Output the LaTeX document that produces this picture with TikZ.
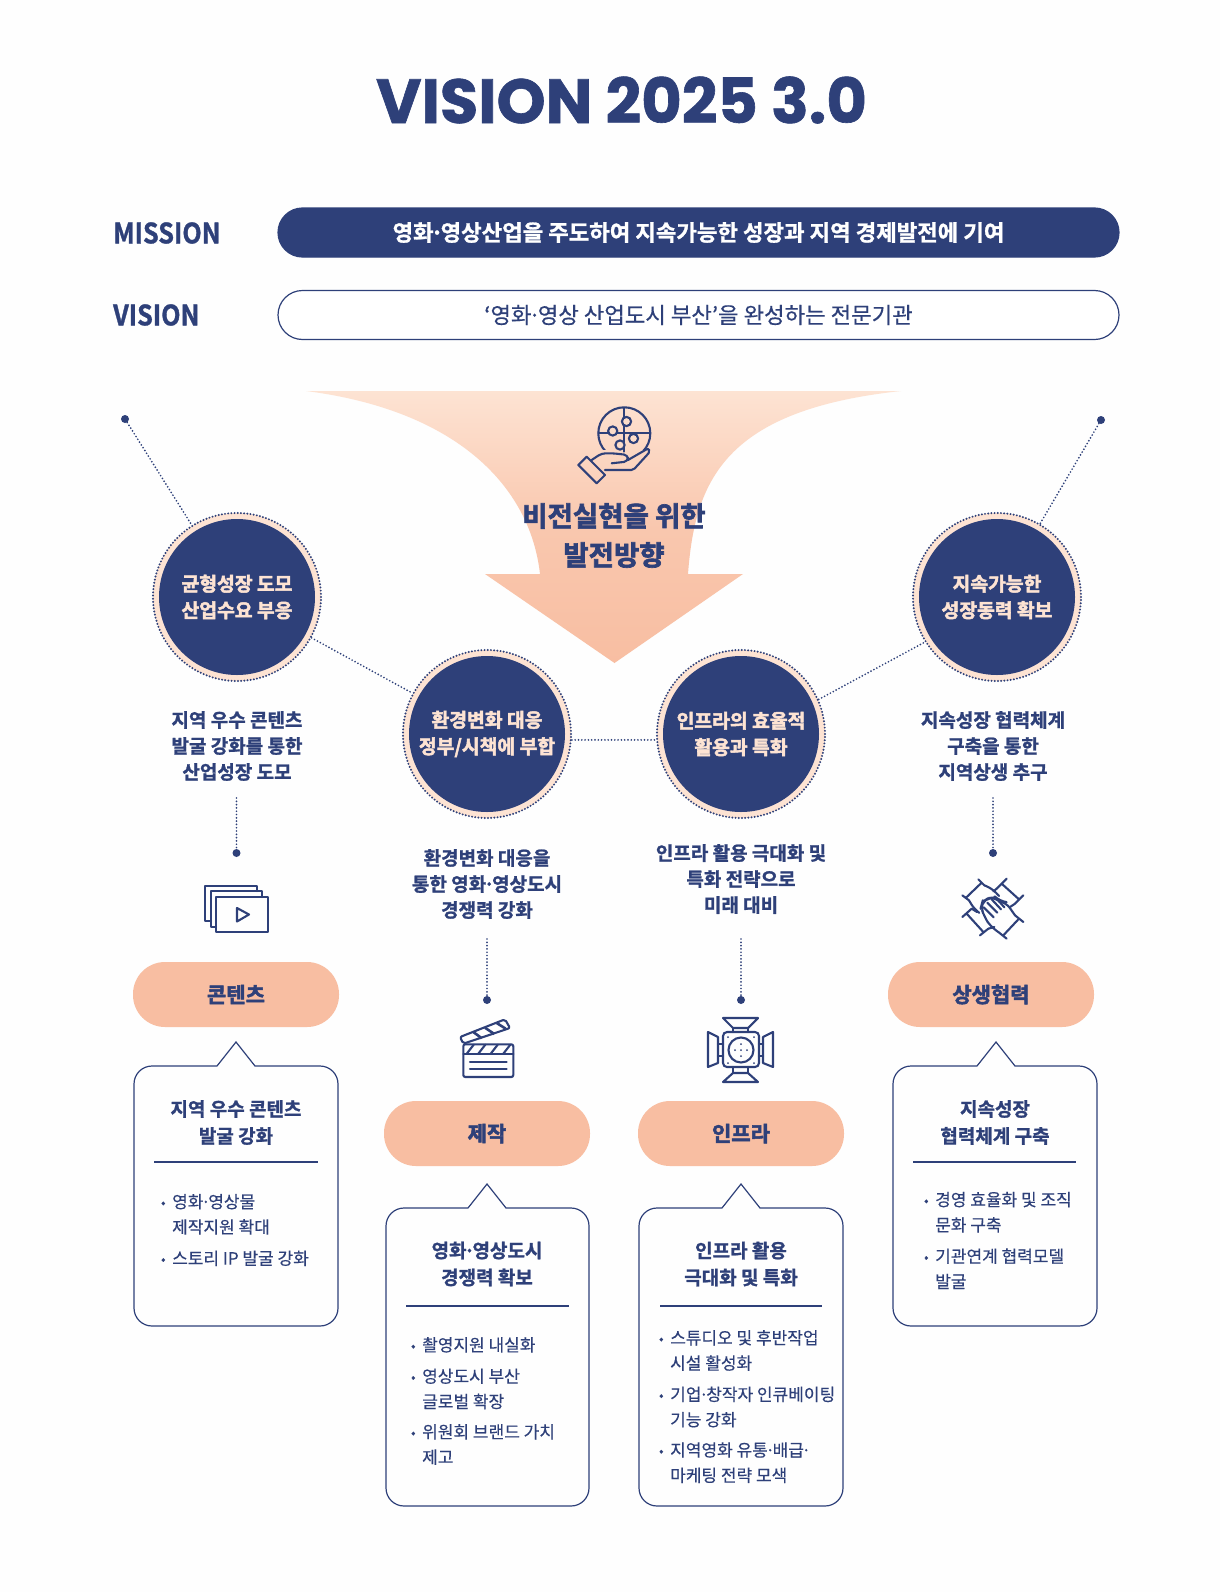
\documentclass[tikz,border=0pt]{standalone}
\usepackage{fontspec}
\setmainfont{Noto Sans CJK KR}
\newfontfamily\krmed[FakeBold=0.35]{Noto Sans CJK KR}
\newfontfamily\krbold[BoldFont=*,FakeBold=1.2]{Noto Sans CJK KR Bold}
\newfontfamily\krheavy[BoldFont=*,FakeBold=2.4]{Noto Sans CJK KR Bold}
\newfontfamily\labelfont[BoldFont=*,FakeBold=1.2,FakeStretch=0.9]{Noto Sans CJK KR Bold}
\newfontfamily\titlefont[FakeBold=1]{Poppins Bold}
\usetikzlibrary{positioning,calc}
\definecolor{navy}  {HTML}{2E4079}
\definecolor{cream} {HTML}{FDE3D3}
\definecolor{peach} {HTML}{F8BEA2}
\definecolor{paper} {HTML}{FEFEFE}
\newcommand{\pxfont}[2]{\fontsize{#1}{#2}\selectfont}
\newcommand{\bul}{\llap{\raisebox{0.5pt}{\pxfont{14}{14}•}\hspace{6.5pt}}}
\newcommand{\md}{\kern-.14em·\kern-.14em}
% speech box: x1 y1 x2 y2 tip-x
\newcommand{\talkbox}[5]{%
  \draw[boxline] (#5-19,#2) -- (#5,#2-24) -- (#5+19,#2) [rounded corners=18] -- (#3,#2) -- (#3,#4) -- (#1,#4) -- (#1,#2)
    [sharp corners] -- (#5-19,#2);}
\tikzset{
  barbox/.style={draw=navy, line width=1.2pt, rounded corners=24.5, minimum width=841, minimum height=49, inner sep=0},
  goalcircle/.style={circle, draw=navy, fill=cream, minimum size=168, inner sep=0, line width=2.2pt,
    dash pattern=on 0pt off 3.2pt, line cap=round, align=center, text=cream,
    font=\krheavy\pxfont{19.3}{26.5},
    path picture={\fill[navy] (path picture bounding box.center) circle (78);}},
  dotline/.style={navy, line width=1.9pt, dash pattern=on 0pt off 3.3pt, line cap=round},
  enddot/.style={circle, fill=navy, minimum size=8, inner sep=0},
  sublabel/.style={text=navy, align=center, inner sep=0, font=\krbold\pxfont{19}{26}},
  pill/.style={fill=peach, rounded corners=32, minimum width=206, minimum height=65, inner sep=0,
    text=navy, font=\krheavy\pxfont{21}{26}},
  boxline/.style={draw=navy, line width=1.2pt},
  boxhead/.style={text=navy, align=center, inner sep=0, font=\krbold\pxfont{19}{27}},
  boxrule/.style={draw=navy, line width=1.3pt},
  boxlist/.style={text=navy, align=left, anchor=west, inner sep=0, font=\krmed\pxfont{17}{25.3}},
  icon/.style={navy, line width=2.1pt, line join=round, line cap=round},
}
\begin{document}
\begin{tikzpicture}[x=1pt,y=-1pt]
 \useasboundingbox[fill=paper] (0,0) rectangle (1220,1592);
 % heading
 \node[text=navy, inner sep=0, font=\titlefont\pxfont{62.3}{70}] (title) at (621.5,100) {VISION 2025 3.0};
 \node[text=navy, anchor=west, inner sep=0, font=\labelfont\pxfont{28}{30}] (missionlabel) at (113,233) {MISSION};
 \node[text=navy, anchor=west, inner sep=0, font=\labelfont\pxfont{28}{30}] (visionlabel)  at (113,315) {VISION};
 \node[barbox, fill=navy, text=white, font=\krbold\pxfont{22.3}{26}] (missionbar) at (698.5,232.5)
   {영화\md 영상산업을 주도하여 지속가능한 성장과 지역 경제발전에 기여};
 \node[barbox, fill=white, text=navy, font=\krmed\pxfont{22.3}{26}] (visionbar) at (698.5,315)
   {‘영화\md 영상 산업도시 부산’을 완성하는 전문기관};

 % funnel arrow
 \shade[top color=cream, bottom color=peach, middle color=peach!75!cream]
   (306,391) -- (901,391) .. controls (725,410) and (695,480) .. (688,574) -- (743,574)
   -- (614.5,663) -- (485,574) -- (540,574) .. controls (530,485) and (455,410) .. (306,391) -- cycle;
 \node[sublabel, font=\krheavy\pxfont{27.5}{39}] (vlabel) at (614,535.5) {비전실현을 위한\\발전방향};

 % puzzle in hand
 \begin{scope}[icon]
  \begin{scope}
   \clip (590,400) rectangle (660,449);
   \draw (624.3,433.3) circle (26);
  \end{scope}
  \draw (624.3,408) -- (624.3,451.7) (598.5,433.3) -- (650,433.3);
  \foreach \kx/\ky in {626.5/421.5, 612.7/431, 633.5/438.5, 620/445} \draw[fill=cream!80!peach] (\kx,\ky) circle (4.6);
  \draw[rounded corners=4] (591.7,460) -- (601.7,453.3) -- (613,453.3) -- (628,455) -- (628,461.5) -- (611.7,463.3);
  \draw[rounded corners=2] (628,460) -- (648.3,448.3) -- (650,451.7) -- (633.3,470) -- (605,470);
  \draw (578.3,465) -- (596.7,483.3) -- (605,475) -- (586.7,456.7) -- cycle;
 \end{scope}

 % goals
 \node[goalcircle] (balance) at (237,597) {균형성장 도모\\산업수요 부응};
 \node[goalcircle] (policy)  at (487,734) {환경변화 대응\\정부/시책에 부합};
 \node[goalcircle] (infra)   at (741,734) {인프라의 효율적\\활용과 특화};
 \node[goalcircle] (growth)  at (997,597) {지속가능한\\성장동력 확보};
 \node[enddot] (tipleft)  at (125,419) {};
 \node[enddot] (tipright) at (1101,420) {};
 \draw[dotline] (tipleft) -- (balance);
 \draw[dotline] (tipright) -- (growth);
 \draw[dotline] (balance) -- (policy);
 \draw[dotline] (policy.-4) -- (infra.184);
 \draw[dotline] (infra.24) -- (growth.212);

 % sub labels
 \node[sublabel] (balancetext) at (237,746) {지역 우수 콘텐츠\\발굴 강화를 통한\\산업성장 도모};
 \node[sublabel] (policytext)  at (487,884) {환경변화 대응을\\통한 영화\md 영상도시\\경쟁력 강화};
 \node[sublabel] (infratext)   at (741,879) {인프라 활용 극대화 및\\특화 전략으로\\미래 대비};
 \node[sublabel] (growthtext)  at (993,746) {지속성장 협력체계\\구축을 통한\\지역상생 추구};

 \coordinate (drop1) at (236.5,798);
 \coordinate (drop2) at (487,939);
 \coordinate (drop3) at (741,939);
 \coordinate (drop4) at (993,798);
 \node[enddot] (end1) at (236.5,853) {};
 \node[enddot] (end2) at (487,1000) {};
 \node[enddot] (end3) at (741,1000) {};
 \node[enddot] (end4) at (993,853) {};
 \foreach \n in {1,2,3,4} \draw[dotline] (drop\n) -- (end\n);

 % play icon
 \begin{scope}[icon]
  \draw (216,897) rectangle (268,932);
  \draw (216,927) -- (211,927) -- (211,891) -- (262,891) -- (262,897);
  \draw (211,921) -- (205,921) -- (205,886) -- (257,886) -- (257,891);
  \draw (237,908) -- (249,914.5) -- (237,921.5) -- cycle;
 \end{scope}
 % clapper icon
 \begin{scope}[icon]
  \draw[rounded corners=2] (463.3,1044.3) -- (513.3,1044.3) -- (513.3,1077) -- (463.3,1077) -- cycle;
  \draw (463.3,1053.7) -- (513.3,1053.7);
  \foreach \sx in {466.7,478.3,490.7,503.3} \draw (\sx,1053.7) -- (\sx+7,1044.7);
  \draw (470,1062) -- (506.7,1062) (470,1068.7) -- (506.7,1068.7);
  \draw[rounded corners=2] (460,1037) -- (505,1019.3) -- (510,1028) -- (463.3,1043.7) -- cycle;
  \draw[line width=2.6pt, line cap=butt] (473.3,1032) -- (481.7,1038.2) (485,1027.7) -- (494.3,1034) (496.7,1023) -- (505.7,1028.7);
 \end{scope}
 % spotlight icon
 \begin{scope}[icon]
  \draw[rounded corners=4] (723,1032) rectangle (759,1067);
  \draw (741,1050) circle (12.5);
  \foreach \dx/\dy in {0/-6,0/6,-6/0,6/0,0/0,-13/-13,13/-13,-13/13,13/13} \fill (741+\dx,1050+\dy) circle (1);
  \draw (723,1018) -- (758,1018) -- (748,1028) -- (733,1028) -- cycle;
  \draw (733,1028) -- (733,1032) (748,1028) -- (748,1032);
  \draw (723,1082) -- (758,1082) -- (748,1073) -- (733,1073) -- cycle;
  \draw (733,1073) -- (733,1067) (748,1073) -- (748,1067);
  \draw (708,1032) -- (718,1037) -- (718,1063) -- (708,1067) -- cycle;
  \draw (718,1044) -- (723,1044) (718,1056) -- (723,1056);
  \draw (773,1032) -- (763,1037) -- (763,1063) -- (773,1067) -- cycle;
  \draw (763,1044) -- (759,1044) (763,1056) -- (759,1056);
 \end{scope}
 % hands icon
 \begin{scope}[icon, shift={(955,872)}, scale=0.3333]
  \draw (70,22) -- (88,40) (22,70) -- (42,85) (80,32) -- (32,78);
  \draw (155,20) -- (125,50) (205,70) -- (180,95) (140,35) -- (192,82);
  \draw (22,135) -- (50,110) (75,190) -- (100,170) (35,125) -- (85,180);
  \draw (205,150) -- (180,130) (155,200) -- (130,180) (192,140) -- (145,190);
  \draw[rounded corners=6] (88,40) -- (112,50) -- (132,72) (42,85) -- (58,112) -- (72,122);
  \draw (125,50) -- (115,58) (180,95) -- (165,105) (50,110) -- (66,120) (100,170) -- (118,165);
  \draw[rounded corners=7] (180,130) -- (152,90) -- (134,88) -- (122,76) -- (100,78) -- (82,90) -- (78,105) -- (88,135) -- (108,165) -- (130,180);
  \draw (97,92) -- (127,122) (86,106) -- (116,136) (110,82) -- (138,112) (125,80) -- (148,106);
 \end{scope}

 % pills
 \node[pill] (content)    at (236,994.5)  {콘텐츠};
 \node[pill] (production) at (487,1133.5) {제작};
 \node[pill] (facility)   at (741,1133.5) {인프라};
 \node[pill] (mutual)     at (991,994.5)  {상생협력};

 % boxes
 \talkbox{134}{1066}{338}{1326}{236}
 \talkbox{386}{1208}{589}{1506}{487}
 \talkbox{639}{1208}{843}{1506}{741}
 \talkbox{893}{1066}{1097}{1326}{996}

 \node[boxhead] (head1) at (236,1122.5) {지역 우수 콘텐츠\\발굴 강화};
 \node[boxhead] (head2) at (487,1264)   {영화\md 영상도시\\경쟁력 확보};
 \node[boxhead] (head3) at (741,1264)   {인프라 활용\\극대화 및 특화};
 \node[boxhead] (head4) at (995,1122.5) {지속성장\\협력체계 구축};

 \draw[boxrule] (154,1162) -- (318,1162);
 \draw[boxrule] (406,1306) -- (569,1306);
 \draw[boxrule] (660,1306) -- (822,1306);
 \draw[boxrule] (913,1162) -- (1076,1162);

 \node[boxlist] (list1) at (172,1230) {\bul 영화\md 영상물\\제작지원 확대\\[6pt]\bul 스토리 IP 발굴 강화};
 \node[boxlist] (list2) at (422,1401) {\bul 촬영지원 내실화\\[6pt]\bul 영상도시 부산\\글로벌 확장\\[5pt]\bul 위원회 브랜드 가치\\제고};
 \node[boxlist] (list3) at (670,1406.5) {\bul 스튜디오 및 후반작업\\시설 활성화\\[6pt]\bul 기업\md 창작자 인큐베이팅\\기능 강화\\[5pt]\bul 지역영화 유통\md 배급\md\\마케팅 전략 모색};
 \node[boxlist] (list4) at (935,1240.5) {\bul 경영 효율화 및 조직\\문화 구축\\[6pt]\bul 기관연계 협력모델\\발굴};
\end{tikzpicture}
\end{document}
